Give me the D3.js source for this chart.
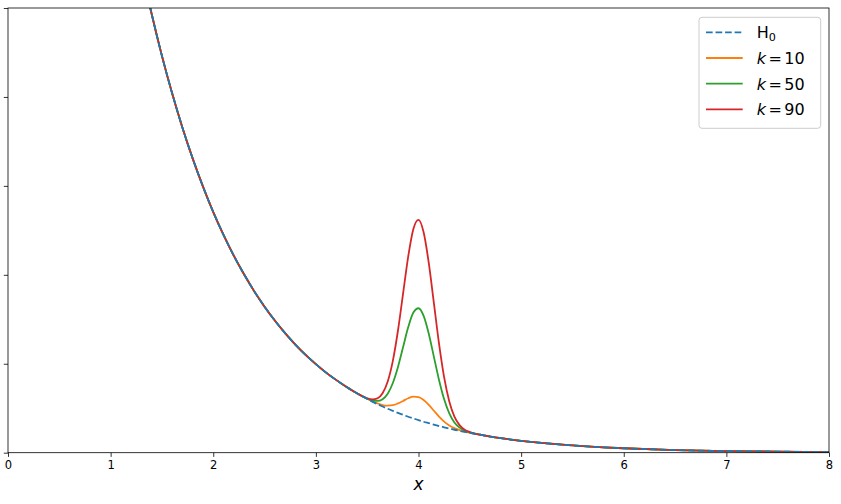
<!DOCTYPE html>
<html>
<head>
<meta charset="utf-8">
<script src="https://cdn.jsdelivr.net/npm/d3@7"></script>
<style>
  body { margin: 0; background: #fff; }
  text { font-family: "DejaVu Sans", sans-serif; }
</style>
</head>
<body>
<script>
// x grid shared by every curve
const xs = [1.3, 1.4, 1.5, 1.6, 1.7, 1.8, 1.9, 2.0, 2.1, 2.2, 2.3, 2.4, 2.5, 2.6, 2.7, 2.8, 2.9, 3.0, 3.1, 3.2, 3.3,
  3.35, 3.4, 3.45, 3.5, 3.55, 3.6, 3.65, 3.7, 3.75, 3.8, 3.85, 3.9, 3.95, 4.0, 4.05, 4.1, 4.15, 4.2, 4.25, 4.3,
  4.35, 4.4, 4.45, 4.5, 4.55, 4.6, 4.65, 4.7, 4.8, 4.9, 5.0, 5.2, 5.4, 5.6, 5.8, 6.0, 6.5, 7.0, 7.5, 8.0];

const tail = [0.0082, 0.0074, 0.0067, 0.0055, 0.0045, 0.0037, 0.0030, 0.0025, 0.0015, 0.0009, 0.0006, 0.0003];
const head = [0.2725, 0.2466, 0.2231, 0.2019, 0.1827, 0.1653, 0.1496, 0.1353, 0.1225, 0.1108, 0.1003, 0.0907,
  0.0821, 0.0743, 0.0672, 0.0608, 0.0550, 0.0498, 0.0450, 0.0408, 0.0369];

const h0 = head.concat([0.0351, 0.0334, 0.0318, 0.0302, 0.0287, 0.0273, 0.0260, 0.0247, 0.0235, 0.0224, 0.0213,
  0.0202, 0.0193, 0.0183, 0.0174, 0.0166, 0.0158, 0.0150, 0.0143, 0.0136, 0.0129, 0.0123, 0.0117, 0.0111,
  0.0106, 0.0101, 0.0096, 0.0091], tail);

const k10 = head.concat([0.0351, 0.0334, 0.0318, 0.0303, 0.0289, 0.0277, 0.0268, 0.0265, 0.0267, 0.0277, 0.0291,
  0.0306, 0.0315, 0.0312, 0.0296, 0.0269, 0.0236, 0.0203, 0.0175, 0.0153, 0.0138, 0.0127, 0.0118, 0.0112,
  0.0106, 0.0101, 0.0096, 0.0091], tail);

const k50 = head.concat([0.0351, 0.0334, 0.0318, 0.0304, 0.0294, 0.0291, 0.0301, 0.0332, 0.0392, 0.0482, 0.0594,
  0.0706, 0.0788, 0.0812, 0.0769, 0.0669, 0.0539, 0.0409, 0.0300, 0.0221, 0.0170, 0.0141, 0.0124, 0.0114,
  0.0107, 0.0101, 0.0096, 0.0091], tail);

const k90 = head.concat([0.0351, 0.0334, 0.0319, 0.0306, 0.0300, 0.0305, 0.0334, 0.0400, 0.0516, 0.0687, 0.0896,
  0.1104, 0.1258, 0.1309, 0.1239, 0.1067, 0.0841, 0.0613, 0.0423, 0.0288, 0.0203, 0.0155, 0.0129, 0.0116,
  0.0107, 0.0101, 0.0096, 0.0091], tail);

const xTicks = [0, 1, 2, 3, 4, 5, 6, 7, 8];
const yTicks = [0, 0.05, 0.1, 0.15, 0.2, 0.25];

const series = [
  { name: "k10", label: ["k", "10"], color: "#ff7f0e", values: k10 },
  { name: "k50", label: ["k", "50"], color: "#2ca02c", values: k50 },
  { name: "k90", label: ["k", "90"], color: "#d62728", values: k90 }
];

const W = 841, H = 504;
const margin = { top: 8, right: 12, bottom: 51.3, left: 8 };
const iw = W - margin.left - margin.right,
      ih = H - margin.top - margin.bottom;
const lw = 1.8;

const svg = d3.select("body").append("svg")
    .attr("width", W)
    .attr("height", H);

const x = d3.scaleLinear().domain([0, 8]).range([0, iw]);
const y = d3.scaleLinear().domain([0, 0.25]).range([ih, 0]);

const g = svg.append("g").attr("transform", `translate(${margin.left},${margin.top})`);

g.append("clipPath").attr("id", "clip")
  .append("rect").attr("width", iw).attr("height", ih);

const line = vals => d3.line()
    .x((d, i) => x(xs[i]))
    .y(d => y(d))
    .curve(d3.curveMonotoneX)(vals);

const plot = g.append("g").attr("clip-path", "url(#clip)");

series.forEach(s => {
  plot.append("path")
      .attr("d", line(s.values))
      .attr("fill", "none")
      .attr("stroke", s.color)
      .attr("stroke-width", lw);
});

plot.append("path")
    .attr("d", line(h0))
    .attr("fill", "none")
    .attr("stroke", "#1f77b4")
    .attr("stroke-width", lw)
    .attr("stroke-dasharray", `${3.7 * lw},${1.6 * lw}`);

// axes
const xAxis = g.append("g")
    .attr("transform", `translate(0,${ih})`)
    .call(d3.axisBottom(x).tickValues(xTicks).tickFormat(d3.format("d")).tickSize(4.2).tickPadding(4));
const yAxis = g.append("g")
    .call(d3.axisLeft(y).tickValues(yTicks).tickFormat("").tickSize(4.2));

[xAxis, yAxis].forEach(a => {
  a.select(".domain").remove();
  a.selectAll(".tick line").attr("stroke", "#000").attr("stroke-width", 0.8);
});
xAxis.selectAll("text").attr("font-size", 11.5).attr("fill", "#000")
    .attr("font-family", "DejaVu Sans");

// spines
g.append("rect")
    .attr("width", iw).attr("height", ih)
    .attr("fill", "none").attr("stroke", "#000").attr("stroke-width", 0.8);

g.append("text")
    .attr("x", iw / 2).attr("y", ih + 37)
    .attr("text-anchor", "middle")
    .attr("font-size", 17)
    .attr("font-style", "italic")
    .text("x");

// legend
const leg = svg.append("g").attr("transform", "translate(699,17.3)");
leg.append("rect")
    .attr("width", 121.7).attr("height", 111)
    .attr("rx", 3)
    .attr("fill", "#fff").attr("fill-opacity", 0.8)
    .attr("stroke", "#ccc").attr("stroke-width", 1);

const rowY = i => 15 + i * 25.7;
const entries = [{ color: "#1f77b4", dashed: true }].concat(series);

entries.forEach((e, i) => {
  leg.append("line")
      .attr("x1", 7).attr("x2", 43.7)
      .attr("y1", rowY(i)).attr("y2", rowY(i))
      .attr("stroke", e.color).attr("stroke-width", lw)
      .attr("stroke-dasharray", e.dashed ? `${3.7 * lw},${1.6 * lw}` : null);
  const t = leg.append("text")
      .attr("x", 57.7).attr("y", rowY(i) + 6)
      .attr("font-size", 16);
  if (e.dashed) {
    t.append("tspan").text("H");
    t.append("tspan").attr("font-size", 11.2).attr("dy", 3.2).text("0");
  } else {
    t.append("tspan").attr("font-style", "italic").text(e.label[0]);
    t.append("tspan").attr("dx", 2.5).text("=");
    t.append("tspan").attr("dx", 2.5).text(e.label[1]);
  }
});
</script>
</body>
</html>
